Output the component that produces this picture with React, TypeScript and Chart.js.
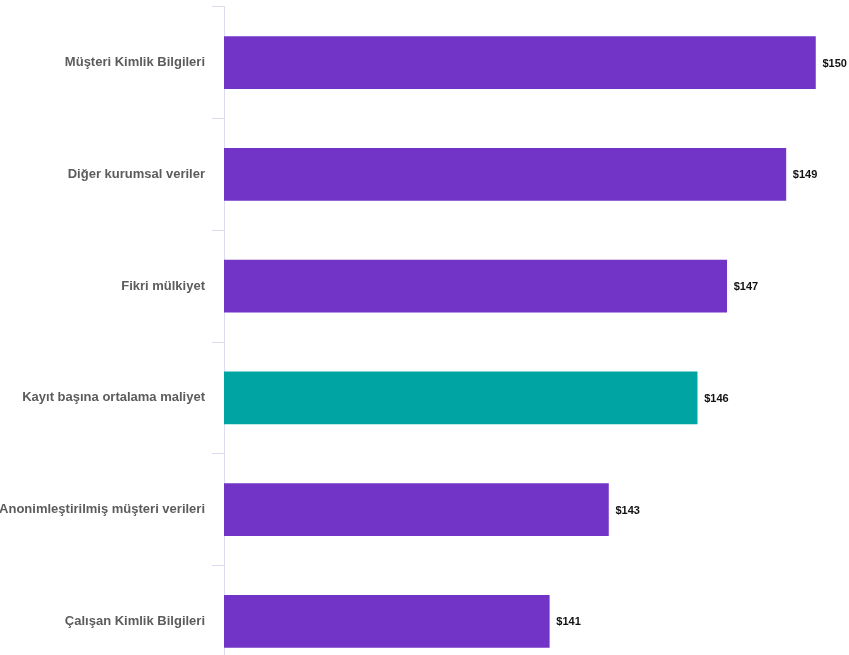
import React, { useEffect, useRef } from "react";
import { Chart, registerables } from "chart.js";

Chart.register(...registerables);

const categories = [
  "Müşteri Kimlik Bilgileri",
  "Diğer kurumsal veriler",
  "Fikri mülkiyet",
  "Kayıt başına ortalama maliyet",
  "Anonimleştirilmiş müşteri verileri",
  "Çalışan Kimlik Bilgileri",
];
const costs = [150, 149, 147, 146, 143, 141];
const highlightIndex = 3;
const PURPLE = "#7233C7";
const TEAL = "#00A5A3";

const valueLabels = {
  id: "valueLabels",
  afterDatasetsDraw(chart: any) {
    const ctx = chart.ctx;
    const meta = chart.getDatasetMeta(0);
    ctx.save();
    ctx.font = "bold 11px 'Liberation Sans', Arial, sans-serif";
    ctx.fillStyle = "#111";
    ctx.textAlign = "left";
    ctx.textBaseline = "middle";
    meta.data.forEach((bar: any, i: number) => {
      ctx.fillText("$" + costs[i], bar.x + 7, bar.y + 1);
    });
    ctx.restore();
  },
};

export default function App() {
  const ref = useRef<HTMLCanvasElement>(null);
  useEffect(() => {
    if (!ref.current) return;
    const chart = new Chart(ref.current, {
      type: "bar",
      data: {
        labels: categories,
        datasets: [
          {
            data: costs,
            backgroundColor: costs.map((_, i) => (i === highlightIndex ? TEAL : PURPLE)),
            borderWidth: 0,
            barThickness: 52,
          },
        ],
      },
      options: {
        indexAxis: "y",
        animation: false,
        responsive: false,
        maintainAspectRatio: false,
        layout: { padding: { top: 6, bottom: 13, left: 0, right: 4 } },
        plugins: {
          legend: { display: false },
          tooltip: { enabled: false },
        },
        scales: {
          x: { display: false, min: 130, max: 151 },
          y: {
            afterFit: (s: any) => {
              s.width = 224;
            },
            grid: {
              offset: true,
              drawOnChartArea: false,
              tickLength: 12,
              color: "#dcdcf0",
            },
            border: { color: "#dcdcf0", width: 1 },
            ticks: {
              padding: 7,
              color: "#5c5c5c",
              font: { family: "'Liberation Sans', Arial, sans-serif", size: 13, weight: "bold" },
            },
          },
        },
      },
      plugins: [valueLabels],
    });
    return () => chart.destroy();
  }, []);
  return (
    <div style={{ position: "fixed", left: 0, top: -8, width: 849, height: 700, background: "#fff" }}>
      <canvas ref={ref} width={849} height={700} style={{ display: "block", width: 849, height: 700 }} />
    </div>
  );
}
